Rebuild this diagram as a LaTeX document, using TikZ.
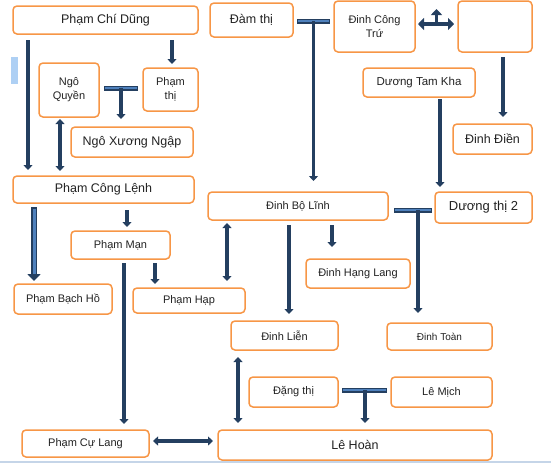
\documentclass[tikz,border=0pt]{standalone}
\usepackage{fontspec}
\setmainfont{Liberation Sans}
\usepackage{tikz}
\usepackage{xcolor}
\usetikzlibrary{calc,arrows.meta}
\definecolor{boxorange}{HTML}{F79646}
\definecolor{navyline}{HTML}{243F60}
\definecolor{barblue}{HTML}{4F81BD}
\definecolor{sidebar}{HTML}{AED0F4}
\definecolor{baseblue}{HTML}{C5D5E8}
\definecolor{txt}{HTML}{222222}
\newcommand{\fsz}[1]{\fontsize{#1pt}{#1pt}\selectfont}
\tikzset{
  box/.style={draw=boxorange, line width=1.5pt, rounded corners=4pt, fill=white,
    text=txt, align=center, inner sep=1pt, outer sep=0pt, font=\fsz{11}},
  conn/.style={draw=navyline, line width=3.5pt, -{Triangle[width=9pt,length=5pt]}},
  dconn/.style={conn, {Triangle[width=9pt,length=5pt]}-{Triangle[width=9pt,length=5pt]}},
  bigconn/.style={conn, {Triangle[width=12pt,length=6pt]}-{Triangle[width=12pt,length=6pt]}},
  wconn/.style={draw=navyline, line width=6pt, -{Triangle[width=13pt,length=7pt]},
    postaction={draw=barblue, line width=3pt, -, shorten <=1.5pt, shorten >=7pt}},
  tbar/.style={draw=navyline, line width=5pt,
    postaction={draw=barblue, line width=2.4pt, shorten <=1.3pt, shorten >=1.3pt}}
}

\begin{document}
\begin{tikzpicture}[x=1pt, y=-1pt]
  \useasboundingbox (0,0) rectangle (551,464);
  \fill[sidebar] (11,57) rectangle (18,84);
  \draw[baseblue, line width=1.5pt] (0,462) -- (551,462);

  % left family
  \node[box, minimum width=185pt, minimum height=28pt, font=\fsz{12.5}] (pcd) at (105.5,20) {Phạm Chí Dũng};
  \node[box, minimum width=60pt, minimum height=54pt, font=\fontsize{11pt}{14pt}\selectfont] (nq) at (69,90) {Ngô\\Quyền};
  \node[box, minimum width=55pt, minimum height=43pt, font=\fontsize{11pt}{14pt}\selectfont] (pt) at (170.5,89.5) {Phạm\\thị};
  \node[box, minimum width=122pt, minimum height=30pt, font=\fsz{12.5}] (nxn) at (132,142) {Ngô Xương Ngập};
  \node[box, minimum width=181pt, minimum height=27pt, font=\fsz{12.5}] (pcl) at (103.5,189.5) {Phạm Công Lệnh};
  \node[box, minimum width=99pt, minimum height=28pt] (pm) at (120.5,245) {Phạm Mạn};
  \node[box, minimum width=98pt, minimum height=30pt] (pbh) at (63,299) {Phạm Bạch Hồ};
  \node[box, minimum width=112pt, minimum height=25pt] (ph) at (189,300.5) {Phạm Hạp};
  \node[box, minimum width=127pt, minimum height=27pt] (pcg) at (85.5,443.5) {Phạm Cự Lang};

  % right family
  \node[box, minimum width=83pt, minimum height=34pt, font=\fsz{12.5}] (dt) at (251.5,20) {Đàm thị};
  \node[box, minimum width=81pt, minimum height=51pt, font=\fontsize{11pt}{14pt}\selectfont] (dct) at (374.5,26.5) {Đinh Công\\Trứ};
  \node[box, minimum width=74pt, minimum height=51pt] (emp) at (495,26.5) {};
  \node[box, minimum width=112pt, minimum height=29pt, font=\fsz{11.5}] (dtk) at (419,82.5) {Dương Tam Kha};
  \node[box, minimum width=79pt, minimum height=30pt, font=\fsz{12.5}] (dd) at (492.5,139) {Đinh Điền};
  \node[box, minimum width=180pt, minimum height=28pt] (dbl) at (298,206) {Đinh Bộ Lĩnh};
  \node[box, minimum width=97pt, minimum height=31pt, font=\fsz{13}] (dt2) at (483.5,207.5) {Dương thị 2};
  \node[box, minimum width=104pt, minimum height=29pt] (dhl) at (358,273.5) {Đinh Hạng Lang};
  \node[box, minimum width=107pt, minimum height=29pt] (dl) at (284.5,335.5) {Đinh Liễn};
  \node[box, minimum width=105pt, minimum height=27pt, font=\fsz{10}] (dtn) at (439.5,336.5) {Đinh Toàn};
  \node[box, minimum width=89pt, minimum height=30pt] (dgt) at (293.5,392) {Đặng thị};
  \node[box, minimum width=101pt, minimum height=30pt] (lm) at (441.5,392) {Lê Mịch};
  \node[box, minimum width=274pt, minimum height=30pt, font=\fsz{12.5}] (lh) at (355,445) {Lê Hoàn};

  % connectors, left
  \draw[conn] ($(pcd.south west)+(15,6)$) -- ($(pcl.north west)+(15,-6)$);
  \draw[conn] ($(pcd.south east)+(-26,6)$) -- ($(pt.north east)+(-26,-4)$);
  \coordinate (tq) at ($(nq.east)!0.5!(pt.west)+(0,-2)$);
  \draw[tbar] ($(nq.east)+(5,-2)$) -- ($(pt.west)+(-5,-1.5)$);
  \draw[conn] (tq) -- ($(tq |- nxn.north)+(0,-8)$);
  \draw[dconn] ($(nq.south west)+(21,2)$) -- ($(pcl.north west)+(47,-5)$);
  \draw[conn] ($(pcl.south)+(23.5,7)$) -- ($(pm.north)+(6.5,-4)$);
  \draw[wconn] ($(pcl.south west)+(21,4)$) -- ($(pbh.north west)+(20,-3)$);
  \draw[conn] ($(pm.south east)+(-15,4)$) -- ($(ph.north west)+(22,-4)$);
  \draw[conn] ($(pm.south)+(3.5,4)$) -- ($(pcg.north)+(38.5,-6)$);
  \draw[dconn] ($(pcg.east)+(4,-2.5)$) -- ($(lh.west)+(-5,-4)$);

  % connectors, right
  \coordinate (td) at ($(dt.east)!0.5!(dct.west |- dt.east)+(0,1)$);
  \draw[tbar] ($(dt.east)+(4,1)$) -- ($(dct.west |- dt.east)+(-4,1)$);
  \draw[conn] (td) -- ($(td |- dbl.north)+(0,-11)$);
  \coordinate (tc) at ($(dct.east)!0.5!(emp.west)+(0,-2.5)$);
  \coordinate (tcup) at ($(tc)+(0,-15)$);
  \draw[bigconn] ($(dct.east)+(3,-2.5)$) -- ($(emp.west)+(-4,-2.5)$);
  \draw[conn, -{Triangle[width=11pt,length=6pt]}] (tc) -- (tcup);
  \draw[conn] ($(emp.south)+(8,5)$) -- ($(dd.north)+(10.5,-7)$);
  \draw[conn] ($(dtk.south)+(21,2)$) -- ($(dt2.north)+(-43.5,-5)$);
  \coordinate (tb) at ($(dbl.east)+(30,4)$);
  \draw[tbar] ($(dbl.east)+(6,4)$) -- ($(dt2.west)+(-3,2.5)$);
  \draw[conn] (tb) -- ($(tb |- dtn.north)+(0,-10)$);
  \draw[dconn] ($(dbl.south west)+(19,3)$) -- ($(ph.north east)+(-18,-7)$);
  \draw[conn] ($(dbl.south)+(-9,5)$) -- ($(dl.north)+(4.5,-7)$);
  \draw[conn] ($(dbl.south)+(34,5)$) -- ($(dhl.north)+(-26,-12)$);
  \draw[dconn] ($(dl.south west)+(7,7)$) -- ($(lh.north west)+(20,-7)$);
  \coordinate (tl) at ($(dgt.east)+(27,-2)$);
  \draw[tbar] ($(dgt.east)+(4,-2)$) -- ($(lm.west)+(-4,-2)$);
  \draw[conn] (tl) -- ($(tl |- lh.north)+(0,-7)$);
\end{tikzpicture}
\end{document}
